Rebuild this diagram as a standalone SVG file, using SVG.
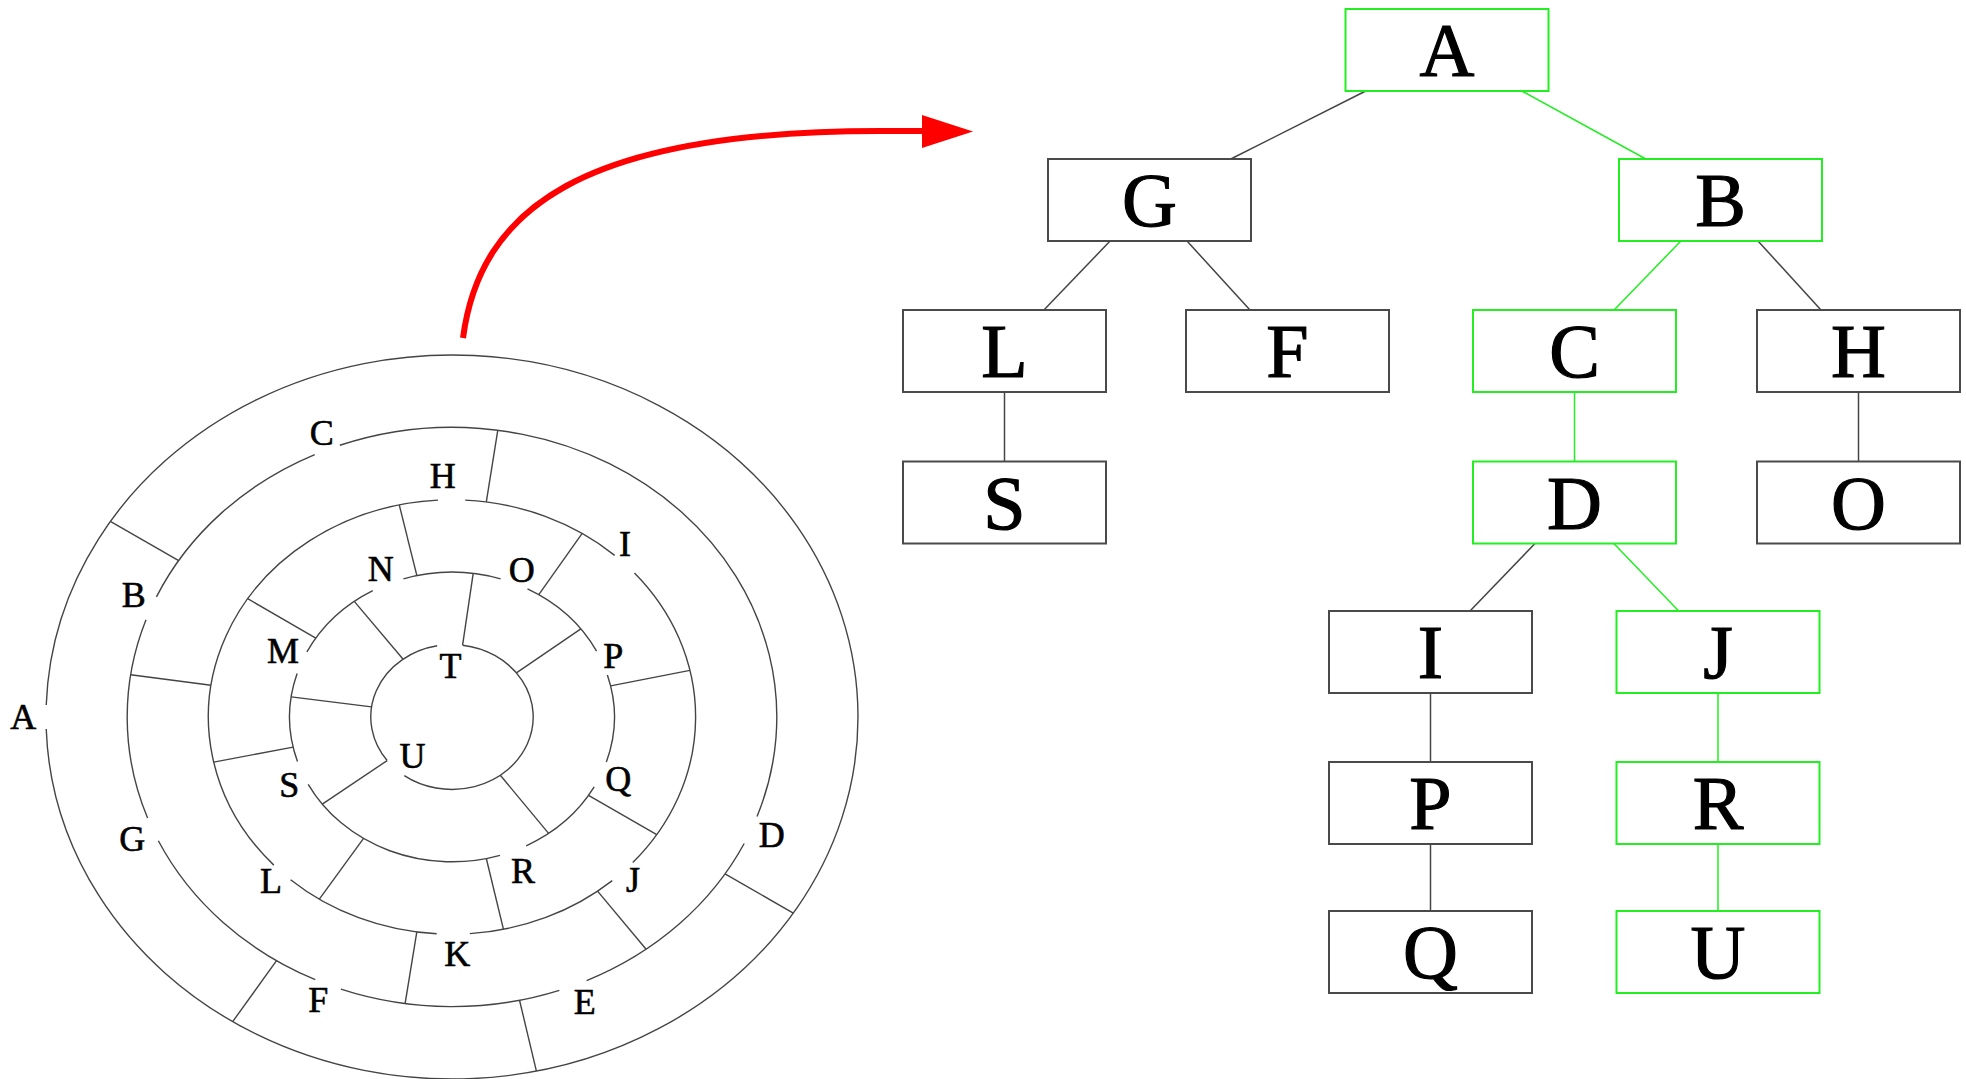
<svg xmlns="http://www.w3.org/2000/svg" width="1966" height="1079" viewBox="0 0 1966 1079">
<style>
.bg{fill:#ffffff}
.ring{fill:none;stroke:#444;stroke-width:1.4}
.wall{stroke:#444;stroke-width:1.4}
.ml{font-family:"Liberation Serif","DejaVu Serif",serif;font-size:36px;fill:#000;stroke:#000;stroke-width:0.6;text-anchor:middle}
.box{fill:#fff;stroke:#4a4a4a;stroke-width:2}
.gbox{fill:#fff;stroke:#22ee22;stroke-width:2}
.tl{font-family:"Liberation Serif","DejaVu Serif",serif;font-size:76px;fill:#000;stroke:#000;stroke-width:1.2;text-anchor:middle}
.edge{stroke:#444;stroke-width:1.5}
.gedge{stroke:#22ee22;stroke-width:1.5}
</style>
<rect class="bg" x="0" y="0" width="1966" height="1079"/>

<g id="maze">
  <g id="rings">
    <path class="ring" d="M437.2,645.8 A81.2,72.4 0 0 0 387.15,760.57 M404.27,775.57 A81.2,72.4 0 1 0 462.6,645.22"/>
    <path class="ring" d="M596.57,651.04 A162.4,144.8 0 0 0 527.48,588.79 M500.56,578.83 A162.4,144.8 0 0 0 403.44,578.83 M372.76,590.6 A162.4,144.8 0 0 0 306.91,651.94 M297.12,673.46 A162.4,144.8 0 0 0 297.46,761.51 M308.21,784.3 A162.4,144.8 0 0 0 500.02,855.33 M526.23,845.79 A162.4,144.8 0 0 0 594.18,786.98 M606.36,761.99 A162.4,144.8 0 0 0 607.38,674.91"/>
    <path class="ring" d="M614.68,555.34 A243.6,217.2 0 0 0 465.18,500.13 M437.97,500.17 A243.6,217.2 0 0 0 273.83,865.13 M290.59,879.68 A243.6,217.2 0 0 0 436.7,933.77 M469.83,933.61 A243.6,217.2 0 0 0 612.24,880.6 M632.75,862.61 A243.6,217.2 0 0 0 634.46,573.08"/>
    <path class="ring" d="M757.02,816.54 A324.8,289.6 0 0 0 339.85,445.21 M314.74,454.54 A324.8,289.6 0 0 0 156.43,596.9 M146,619.84 A324.8,289.6 0 0 0 147.57,817.95 M158.35,840.77 A324.8,289.6 0 0 0 315.26,979.67 M340.92,989.14 A324.8,289.6 0 0 0 559.35,990.32 M586.69,980.54 A324.8,289.6 0 0 0 744.19,843.5"/>
    <path class="ring" d="M46.22,729 A406,362 0 1 0 46.22,705"/>
  </g>
  <g id="walls">
    <line class="wall" x1="178.68" y1="560.56" x2="110.35" y2="521.45"/>
    <line class="wall" x1="276.54" y1="960.7" x2="232.68" y2="1021.62"/>
    <line class="wall" x1="519.53" y1="1000.26" x2="536.41" y2="1071.07"/>
    <line class="wall" x1="725.03" y1="873.88" x2="793.28" y2="913.1"/>
    <line class="wall" x1="486.32" y1="501.97" x2="497.76" y2="430.3"/>
    <line class="wall" x1="211.01" y1="685.27" x2="130.68" y2="674.69"/>
    <line class="wall" x1="416.82" y1="931.92" x2="405.1" y2="1003.56"/>
    <line class="wall" x1="597.57" y1="891.15" x2="646.1" y2="949.2"/>
    <line class="wall" x1="610.62" y1="685.91" x2="689.92" y2="670.37"/>
    <line class="wall" x1="538.79" y1="594.6" x2="582.18" y2="533.4"/>
    <line class="wall" x1="416.86" y1="575.63" x2="399.28" y2="504.95"/>
    <line class="wall" x1="315.8" y1="638.14" x2="247.69" y2="598.71"/>
    <line class="wall" x1="293.16" y1="747.1" x2="213.73" y2="762.16"/>
    <line class="wall" x1="363.56" y1="838.44" x2="319.34" y2="899.17"/>
    <line class="wall" x1="486.32" y1="858.53" x2="503.47" y2="929.29"/>
    <line class="wall" x1="588.51" y1="795.44" x2="656.77" y2="834.66"/>
    <line class="wall" x1="516.42" y1="672.92" x2="580.85" y2="628.85"/>
    <line class="wall" x1="462.6" y1="645.22" x2="473.2" y2="573.45"/>
    <line class="wall" x1="403.13" y1="659.18" x2="354.27" y2="601.36"/>
    <line class="wall" x1="371.59" y1="706.92" x2="291.18" y2="696.84"/>
    <line class="wall" x1="387.15" y1="760.57" x2="322.31" y2="804.14"/>
    <line class="wall" x1="500.3" y1="775.2" x2="548.6" y2="833.41"/>
  </g>
  <g id="maze-labels">
    <text class="ml" x="23.3" y="729">A</text>
    <text class="ml" x="321.7" y="445">C</text>
    <text class="ml" x="133.7" y="607">B</text>
    <text class="ml" x="442.7" y="488">H</text>
    <text class="ml" x="625" y="556">I</text>
    <text class="ml" x="380.8" y="580.5">N</text>
    <text class="ml" x="521.7" y="581.5">O</text>
    <text class="ml" x="283" y="663.3">M</text>
    <text class="ml" x="450.5" y="678.3">T</text>
    <text class="ml" x="613.3" y="668.3">P</text>
    <text class="ml" x="412.5" y="768">U</text>
    <text class="ml" x="289.2" y="797.3">S</text>
    <text class="ml" x="618.3" y="790.5">Q</text>
    <text class="ml" x="132.2" y="850.7">G</text>
    <text class="ml" x="771.7" y="846.7">D</text>
    <text class="ml" x="271" y="893.3">L</text>
    <text class="ml" x="523" y="882.7">R</text>
    <text class="ml" x="633" y="892">J</text>
    <text class="ml" x="457.3" y="965.7">K</text>
    <text class="ml" x="318.3" y="1012.3">F</text>
    <text class="ml" x="584.7" y="1014.3">E</text>
  </g>
</g>

<g id="arrow">
  <path d="M463,338 C480,210 580,131 880,131 L926,131" fill="none" stroke="#ff0000" stroke-width="6"/>
  <polygon points="922,115 973,131.5 922,148" fill="#ff0000"/>
</g>

<g id="connectors">
  <line class="edge" x1="1365.7" y1="91" x2="1230.8" y2="159"/>
  <line class="gedge" x1="1521.8" y1="91" x2="1645.8" y2="159"/>
  <line class="edge" x1="1110.1" y1="241" x2="1043.9" y2="310"/>
  <line class="edge" x1="1187" y1="241" x2="1250" y2="310"/>
  <line class="gedge" x1="1680.9" y1="241" x2="1614.1" y2="310"/>
  <line class="edge" x1="1758" y1="241" x2="1821" y2="310"/>
  <line class="edge" x1="1004.5" y1="392" x2="1004.5" y2="461.5"/>
  <line class="gedge" x1="1574.5" y1="392" x2="1574.5" y2="461.5"/>
  <line class="edge" x1="1858.5" y1="392" x2="1858.5" y2="461.5"/>
  <line class="edge" x1="1535" y1="543.5" x2="1470" y2="611"/>
  <line class="gedge" x1="1613.8" y1="543.5" x2="1678.7" y2="611"/>
  <line class="edge" x1="1430.5" y1="693" x2="1430.5" y2="762"/>
  <line class="edge" x1="1430.5" y1="844" x2="1430.5" y2="911"/>
  <line class="gedge" x1="1718" y1="693" x2="1718" y2="762"/>
  <line class="gedge" x1="1718" y1="844" x2="1718" y2="911"/>
</g>

<g id="node-A"><rect class="gbox" x="1345.5" y="9" width="203" height="82"/><text class="tl" x="1447" y="76">A</text></g>
<g id="node-G"><rect class="box" x="1048" y="159" width="203" height="82"/><text class="tl" x="1149.5" y="226">G</text></g>
<g id="node-B"><rect class="gbox" x="1619" y="159" width="203" height="82"/><text class="tl" x="1720.5" y="226">B</text></g>
<g id="node-L"><rect class="box" x="903" y="310" width="203" height="82"/><text class="tl" x="1004.5" y="377">L</text></g>
<g id="node-F"><rect class="box" x="1186" y="310" width="203" height="82"/><text class="tl" x="1287.5" y="377">F</text></g>
<g id="node-C"><rect class="gbox" x="1473" y="310" width="203" height="82"/><text class="tl" x="1574.5" y="377">C</text></g>
<g id="node-H"><rect class="box" x="1757" y="310" width="203" height="82"/><text class="tl" x="1858.5" y="377">H</text></g>
<g id="node-S"><rect class="box" x="903" y="461.5" width="203" height="82"/><text class="tl" x="1004.5" y="528.5">S</text></g>
<g id="node-D"><rect class="gbox" x="1473" y="461.5" width="203" height="82"/><text class="tl" x="1574.5" y="528.5">D</text></g>
<g id="node-O"><rect class="box" x="1757" y="461.5" width="203" height="82"/><text class="tl" x="1858.5" y="528.5">O</text></g>
<g id="node-I"><rect class="box" x="1329" y="611" width="203" height="82"/><text class="tl" x="1430.5" y="678">I</text></g>
<g id="node-J"><rect class="gbox" x="1616.5" y="611" width="203" height="82"/><text class="tl" x="1718" y="678">J</text></g>
<g id="node-P"><rect class="box" x="1329" y="762" width="203" height="82"/><text class="tl" x="1430.5" y="829">P</text></g>
<g id="node-R"><rect class="gbox" x="1616.5" y="762" width="203" height="82"/><text class="tl" x="1718" y="829">R</text></g>
<g id="node-Q"><rect class="box" x="1329" y="911" width="203" height="82"/><text class="tl" x="1430.5" y="978">Q</text></g>
<g id="node-U"><rect class="gbox" x="1616.5" y="911" width="203" height="82"/><text class="tl" x="1718" y="978">U</text></g>
</svg>
